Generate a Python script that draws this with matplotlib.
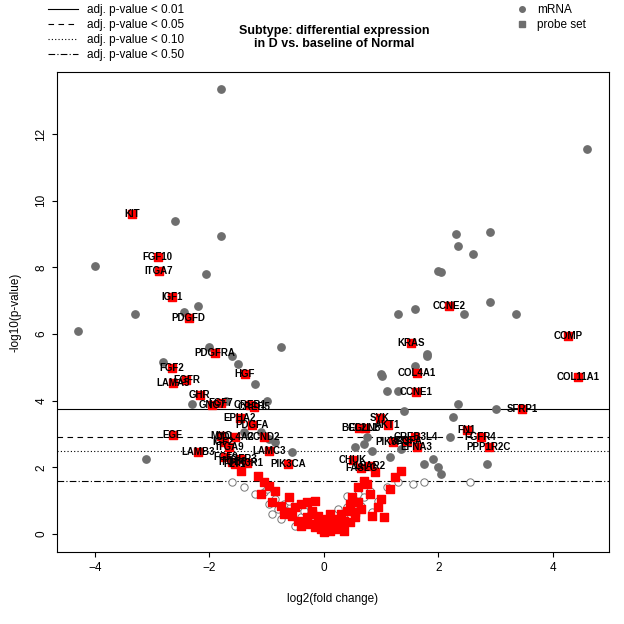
import matplotlib
matplotlib.use("Agg")
import matplotlib.pyplot as plt
from matplotlib.lines import Line2D

plt.rcParams['font.family'] = ['Liberation Sans', 'DejaVu Sans']

# labelled probe sets (red squares)
lab_names = ["KIT", "FGF10", "ITGA7", "IGF1", "PDGFD", "PDGFRA", "FGF2", "HGF", "LAMA5", "EGFR",
             "GHR", "FGF7", "GNG7", "CREB1", "CREB5", "EPHA2", "PDGFA", "EGF", "MYC", "IGF2",
             "COL4A2", "CCND2", "ITGA9", "LAMC3", "LAMB3", "FGF9", "FGFR3", "ITGB8", "FLT1", "PIK3R1",
             "PIK3CA", "CCNE2", "KRAS", "COL4A1", "CCNE1", "COMP", "COL11A1", "SFRP1", "FN1", "FGFR4",
             "PPP1R2C", "SYK", "AKT1", "BCL2L1", "EGLN3", "CREB3L4", "PIK3R3", "VEGFA", "EFNA3", "CHUK",
             "FASLG", "LPAR2"]
lab_x = [-3.35, -2.90, -2.88, -2.65, -2.36, -1.90, -2.65, -1.38, -2.64, -2.40,
         -2.17, -1.80, -1.95, -1.29, -1.22, -1.47, -1.26, -2.64, -1.80, -1.75,
         -1.55, -1.05, -1.65, -0.95, -2.20, -1.72, -1.45, -1.60, -1.55, -1.35,
         -0.62, 2.18, 1.52, 1.62, 1.61, 4.26, 4.44, 3.46, 2.50, 2.74,
         2.88, 0.98, 1.12, 0.62, 0.72, 1.60, 1.20, 1.45, 1.62, 0.51,
         0.65, 0.80]
lab_y = [9.60, 8.31, 7.89, 7.11, 6.48, 5.43, 4.98, 4.80, 4.53, 4.62,
         4.17, 3.93, 3.88, 3.87, 3.82, 3.48, 3.27, 2.97, 2.95, 2.75,
         2.90, 2.90, 2.60, 2.50, 2.45, 2.30, 2.25, 2.15, 2.10, 2.12,
         2.10, 6.84, 5.73, 4.83, 4.26, 5.94, 4.71, 3.75, 3.12, 2.91,
         2.61, 3.48, 3.27, 3.18, 3.18, 2.90, 2.75, 2.80, 2.61, 2.22,
         1.98, 2.05]

# other probe sets (red squares, unlabelled)
sq_x = [-1.45, -1.15, -0.95, -0.85, -0.75, -0.65, -0.55, -0.50, -0.45, -0.40,
        -0.35, -0.30, -0.25, -0.20, -0.15, -0.10, -0.05, 0.00, 0.05, 0.10,
        0.15, 0.20, 0.25, 0.30, 0.35, 0.40, 0.45, 0.50, 0.55, 0.60,
        0.70, 0.80, 0.90, 1.00, 1.15, 1.25, 1.35, 0.65, 0.85, -1.05,
        -0.60, -0.30, -0.20, -0.10, 0.05, 0.20, 0.30, 0.45, 0.60, 0.75,
        0.95, -0.90, -1.10, -0.70, -0.40, 0.10, 0.35, 0.55, 1.05, -0.15]
sq_y = [1.90, 1.75, 1.45, 1.30, 0.85, 0.65, 0.55, 0.80, 0.40, 0.90,
        0.35, 0.50, 0.30, 0.60, 0.20, 0.40, 0.15, 0.05, 0.20, 0.10,
        0.30, 0.45, 0.25, 0.60, 0.40, 0.70, 0.90, 1.10, 0.50, 1.40,
        1.60, 1.20, 1.85, 1.05, 1.35, 1.70, 1.90, 0.75, 0.55, 1.55,
        1.10, 0.95, 0.70, 0.55, 0.45, 0.15, 0.20, 0.35, 0.95, 1.50,
        0.80, 0.95, 1.20, 0.60, 0.25, 0.60, 0.10, 0.65, 0.50, 1.00]

# significant mRNA (filled grey circles)
mr_x = [-4.30, -4.00, -3.30, -2.60, -1.80, -1.80, -2.80, -2.45, -2.20, -2.05,
        -2.00, -1.60, -1.50, -1.20, -1.00, -0.75, -2.30, -3.10, -1.70, -1.40,
        4.60, 2.30, 2.35, 2.90, 2.60, 2.00, 2.05, 2.90, 3.35, 2.45,
        1.60, 1.30, 1.00, 1.02, 1.80, 1.80, 1.60, 1.10, 1.30, 2.35,
        3.00, 2.20, 2.85, 2.25, 1.40, 0.85, 0.70, 1.15, 1.90, 2.00,
        -1.25, -1.10, -0.95, -0.85, -0.55, 0.55, 0.75, 1.35, 1.75, 2.05]
mr_y = [6.10, 8.05, 6.60, 9.40, 13.35, 8.95, 5.15, 6.65, 6.85, 7.80,
        5.60, 5.35, 5.10, 4.50, 4.00, 5.60, 3.90, 2.25, 4.00, 3.05,
        11.55, 9.00, 8.65, 9.05, 8.40, 7.90, 7.85, 6.95, 6.60, 6.60,
        6.75, 6.60, 4.80, 4.75, 5.40, 5.35, 5.05, 4.30, 4.30, 3.90,
        3.75, 2.90, 2.10, 3.50, 3.70, 2.50, 2.70, 2.30, 2.25, 2.00,
        3.30, 3.05, 2.85, 2.75, 2.45, 2.60, 2.90, 2.55, 2.10, 1.80]

# non-significant mRNA (hollow circles)
ho_x = [-1.60, -1.40, -1.20, -1.05, -0.95, -0.85, -0.80, -0.70, -0.65, -0.60,
        -0.55, -0.45, -0.40, -0.35, -0.30, -0.25, -0.20, -0.15, -0.10, 0.00,
        0.10, 0.20, 0.30, 0.35, 0.40, 0.45, 0.50, 0.55, 0.60, 0.70,
        0.80, 0.95, 1.10, 1.30, 1.55, 1.75, 2.55, -0.75, -0.50, 0.65,
        -1.00, -0.90, 0.85, 0.40, -0.30, 0.25]
ho_y = [1.55, 1.40, 1.20, 1.25, 0.90, 1.05, 0.75, 0.90, 0.70, 1.00,
        0.60, 0.80, 0.50, 0.70, 0.40, 0.55, 0.30, 0.45, 0.20, 0.10,
        0.25, 0.35, 0.50, 0.60, 0.80, 0.70, 1.00, 0.90, 1.20, 1.10,
        1.30, 1.00, 1.40, 1.55, 1.50, 1.55, 1.55, 0.45, 0.25, 0.85,
        1.35, 0.60, 0.65, 1.15, 0.90, 0.75]

thresholds = [3.75, 2.91, 2.49, 1.59]
thr_labels = ["adj. p-value < 0.01", "adj. p-value < 0.05",
              "adj. p-value < 0.10", "adj. p-value < 0.50"]
thr_styles = ["-", (0, (5, 4)), (0, (1, 2)), (0, (6, 2, 1, 2))]

fig = plt.figure(figsize=(6.24, 6.24), dpi=100)
ax = fig.add_axes([0.0913, 0.1154, 0.8846, 0.769])

ax.scatter(ho_x, ho_y, s=28, facecolors="white", edgecolors="#777777", linewidths=0.7, zorder=2)
ax.scatter(mr_x, mr_y, s=28, color="#6e6e6e", zorder=3)
ax.scatter(sq_x, sq_y, s=40, marker="s", color="#ff0000", zorder=4)
ax.scatter(lab_x, lab_y, s=40, marker="s", color="#ff0000", zorder=4)
for n, x, y in zip(lab_names, lab_x, lab_y):
    ax.text(x, y, n, fontsize=7, fontweight="bold", ha="center", va="center", zorder=5)

for t, ls in zip(thresholds, thr_styles):
    ax.axhline(t, color="black", lw=0.8, ls=ls, zorder=1)

ax.set_xlim(-4.66, 4.98)
ax.set_ylim(-0.54, 13.86)
ax.set_xticks([-4, -2, 0, 2, 4])
ax.set_yticks([0, 2, 4, 6, 8, 10, 12])
ax.tick_params(labelsize=8.5)
for lbl in ax.get_yticklabels():
    lbl.set_rotation(90)
    lbl.set_va("center")
ax.set_xlabel("log2(fold change)", fontsize=8.5, labelpad=14)
ax.set_ylabel("-log10(p-value)", fontsize=8.5, labelpad=10)

fig.text(0.535, 0.94, "Subtype: differential expression\nin D vs. baseline of Normal",
         ha="center", va="center", fontsize=9, fontweight="bold")

h1 = [Line2D([], [], color="black", lw=0.8, ls=ls) for ls in thr_styles]
fig.legend(h1, thr_labels, loc="upper left", bbox_to_anchor=(0.06, 1.01), frameon=False,
           fontsize=8.5, handlelength=2.5, labelspacing=0.25)
h2 = [Line2D([], [], color="#6e6e6e", marker="o", ls="", ms=4),
      Line2D([], [], color="#6e6e6e", marker="s", ls="", ms=4)]
fig.legend(h2, ["mRNA", "probe set"], loc="upper left", bbox_to_anchor=(0.8, 1.01), frameon=False,
           fontsize=8.5, handletextpad=0.3, labelspacing=0.25)

fig.savefig("out.png", dpi=100)
